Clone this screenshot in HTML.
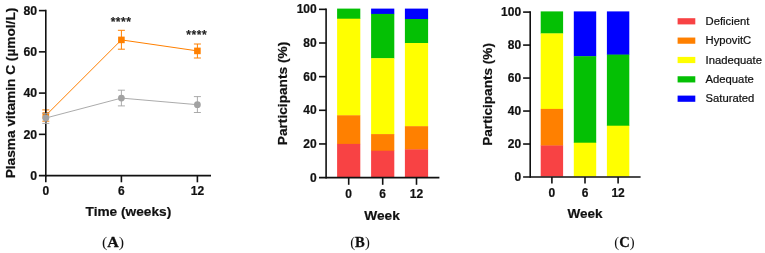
<!DOCTYPE html>
<html lang="en"><head><meta charset="utf-8"><title>Plasma vitamin C and participant status</title>
<style>html,body{margin:0;padding:0;background:#fff}body{width:765px;height:253px;overflow:hidden}svg{display:block}.b{font-family:"Liberation Sans", Arial, Helvetica, sans-serif;font-weight:700;fill:#111111;stroke:#111;stroke-width:.2px}.r{font-family:"Liberation Sans", Arial, Helvetica, sans-serif;font-weight:400;fill:#111;stroke:#111;stroke-width:.22px}.s{font-family:"Liberation Serif", "Times New Roman", serif;fill:#111}</style></head><body>
<svg width="765" height="253" viewBox="0 0 765 253">
<rect width="765" height="253" fill="#fff"/>
<g id="chartA">
<g stroke="#FF8000" fill="none" stroke-width="1.0">
<polyline points="45.8,115.5 121.4,39.9 197.4,50.9"/>
<path d="M45.8 109.9V121.2M42.3 109.9h7M42.3 121.2h7"/>
<path d="M121.4 30.3V49.2M117.9 30.3h7M117.9 49.2h7"/>
<path d="M197.4 44.0V58.0M193.9 44.0h7M193.9 58.0h7"/>
</g>
<rect x="42.5" y="112.2" width="6.6" height="6.6" fill="#FF8000"/>
<rect x="118.1" y="36.6" width="6.6" height="6.6" fill="#FF8000"/>
<rect x="194.1" y="47.6" width="6.6" height="6.6" fill="#FF8000"/>
<g stroke="#111111" stroke-width="1.6" fill="none">
<path d="M45.80 9.80V176.40"/>
<path d="M38.90 175.60H211.00"/>
<path d="M38.9 134.35H45.80"/>
<path d="M38.9 93.10H45.80"/>
<path d="M38.9 51.85H45.80"/>
<path d="M38.9 10.60H45.80"/>
<path d="M45.80 175.60V182.30"/>
<path d="M121.40 175.60V182.30"/>
<path d="M197.40 175.60V182.30"/>
</g>
<g stroke="#A2A2A2" fill="none" stroke-width="0.9">
<polyline points="45.8,118.0 121.4,98.1 197.4,104.7"/>
<path d="M45.8 113.4V123.4M42.3 113.4h7M42.3 123.4h7"/>
<path d="M121.4 90.2V105.9M117.9 90.2h7M117.9 105.9h7"/>
<path d="M197.4 96.6V112.5M193.9 96.6h7M193.9 112.5h7"/>
</g>
<circle cx="45.8" cy="118.0" r="3.4" fill="#A2A2A2"/>
<circle cx="121.4" cy="98.1" r="3.4" fill="#A2A2A2"/>
<circle cx="197.4" cy="104.7" r="3.4" fill="#A2A2A2"/>
<g class="b" font-size="12.3" text-anchor="end">
<text x="37.1" y="179.75">0</text>
<text x="37.1" y="138.50">20</text>
<text x="37.1" y="97.25">40</text>
<text x="37.1" y="56.00">60</text>
<text x="37.1" y="14.75">80</text>
</g>
<g class="b" font-size="12" text-anchor="middle">
<text x="45.8" y="195.3">0</text>
<text x="121.4" y="195.3">6</text>
<text x="197.4" y="195.3">12</text>
</g>
<text class="b" font-size="13.7" text-anchor="middle" x="128.4" y="216.1">Time (weeks)</text>
<text class="b" font-size="13.7" text-anchor="middle" transform="translate(15.2 93.0) rotate(-90)">Plasma vitamin C (µmol/L)</text>
<g class="b" font-size="12" letter-spacing=".55" text-anchor="middle" style="font-weight:700;fill:#222;stroke:#222;stroke-width:.15px;stroke-linejoin:round">
<text x="121.1" y="25.6">****</text>
<text x="196.8" y="39.2">****</text>
</g>
<text class="s" font-size="14.8" text-anchor="middle" transform="translate(113.0 246.6) scale(1.08 1.02)">(<tspan font-weight="700" stroke="#111" stroke-width=".25">A</tspan>)</text>
</g>
<g id="chartB">
<rect x="337.10" y="8.60" width="23.2" height="10.40" fill="#04C004"/>
<rect x="337.10" y="18.70" width="23.2" height="96.90" fill="#FFFF00"/>
<rect x="337.10" y="115.30" width="23.2" height="28.90" fill="#FF8000"/>
<rect x="337.10" y="143.90" width="23.2" height="33.10" fill="#F84244"/>
<rect x="371.10" y="8.60" width="23.2" height="5.60" fill="#0000FF"/>
<rect x="371.10" y="13.90" width="23.2" height="44.60" fill="#04C004"/>
<rect x="371.10" y="58.20" width="23.2" height="76.20" fill="#FFFF00"/>
<rect x="371.10" y="134.10" width="23.2" height="16.90" fill="#FF8000"/>
<rect x="371.10" y="150.70" width="23.2" height="26.30" fill="#F84244"/>
<rect x="404.90" y="8.60" width="23.2" height="10.70" fill="#0000FF"/>
<rect x="404.90" y="19.00" width="23.2" height="24.30" fill="#04C004"/>
<rect x="404.90" y="43.00" width="23.2" height="83.50" fill="#FFFF00"/>
<rect x="404.90" y="126.20" width="23.2" height="23.50" fill="#FF8000"/>
<rect x="404.90" y="149.40" width="23.2" height="27.60" fill="#F84244"/>
<g stroke="#111111" stroke-width="1.6" fill="none">
<path d="M326.10 8.55V178.40"/>
<path d="M319 177.60H439.4"/>
<path d="M319 143.95H326.10"/>
<path d="M319 110.30H326.10"/>
<path d="M319 76.65H326.10"/>
<path d="M319 43.00H326.10"/>
<path d="M319 9.35H326.10"/>
<path d="M348.70 177.60V184.8"/>
<path d="M382.70 177.60V184.8"/>
<path d="M416.50 177.60V184.8"/>
</g>
<g class="b" font-size="12" text-anchor="end">
<text x="316.7" y="181.6">0</text>
<text x="316.7" y="147.9">20</text>
<text x="316.7" y="114.3">40</text>
<text x="316.7" y="80.6">60</text>
<text x="316.7" y="47.0">80</text>
<text x="316.7" y="13.3">100</text>
</g>
<g class="b" font-size="12" text-anchor="middle">
<text x="348.7" y="197.7">0</text>
<text x="382.7" y="197.7">6</text>
<text x="416.5" y="197.7">12</text>
</g>
<text class="b" font-size="13.7" text-anchor="middle" x="382.1" y="219.8">Week</text>
<text class="b" font-size="13.7" text-anchor="middle" transform="translate(287.3 93.5) rotate(-90)">Participants (%)</text>
<text class="s" font-size="14.8" text-anchor="middle" transform="translate(360 246.6) scale(0.99 1.02)">(<tspan font-weight="700" stroke="#111" stroke-width=".25">B</tspan>)</text>
</g>
<g id="chartC">
<rect x="540.70" y="11.40" width="22.4" height="22.30" fill="#04C004"/>
<rect x="540.70" y="33.40" width="22.4" height="75.80" fill="#FFFF00"/>
<rect x="540.70" y="108.90" width="22.4" height="36.90" fill="#FF8000"/>
<rect x="540.70" y="145.50" width="22.4" height="31.00" fill="#F84244"/>
<rect x="573.80" y="11.40" width="22.4" height="45.10" fill="#0000FF"/>
<rect x="573.80" y="56.20" width="22.4" height="86.80" fill="#04C004"/>
<rect x="573.80" y="142.70" width="22.4" height="33.80" fill="#FFFF00"/>
<rect x="606.90" y="11.40" width="22.4" height="43.50" fill="#0000FF"/>
<rect x="606.90" y="54.60" width="22.4" height="71.40" fill="#04C004"/>
<rect x="606.90" y="125.70" width="22.4" height="50.80" fill="#FFFF00"/>
<g stroke="#111111" stroke-width="1.6" fill="none">
<path d="M530.20 11.30V177.80"/>
<path d="M523.1 177.00H640.6"/>
<path d="M523.1 144.02H530.20"/>
<path d="M523.1 111.04H530.20"/>
<path d="M523.1 78.06H530.20"/>
<path d="M523.1 45.08H530.20"/>
<path d="M523.1 12.10H530.20"/>
<path d="M551.90 177.00V183.6"/>
<path d="M585.00 177.00V183.6"/>
<path d="M618.10 177.00V183.6"/>
</g>
<g class="b" font-size="12" text-anchor="end">
<text x="521.1" y="180.9">0</text>
<text x="521.1" y="147.9">20</text>
<text x="521.1" y="114.9">40</text>
<text x="521.1" y="82.0">60</text>
<text x="521.1" y="49.0">80</text>
<text x="521.1" y="16.0">100</text>
</g>
<g class="b" font-size="12" text-anchor="middle">
<text x="551.9" y="197.2">0</text>
<text x="585.0" y="197.2">6</text>
<text x="618.1" y="197.2">12</text>
</g>
<text class="b" font-size="13.5" text-anchor="middle" x="585" y="218.3">Week</text>
<text class="b" font-size="13.6" text-anchor="middle" transform="translate(492.4 94.4) rotate(-90)">Participants (%)</text>
<text class="s" font-size="14.8" text-anchor="middle" transform="translate(624.5 246.6) scale(0.99 1.02)">(<tspan font-weight="700" stroke="#111" stroke-width=".25">C</tspan>)</text>
</g>
<g id="legend">
<rect x="677.6" y="18.20" width="17.7" height="6.2" fill="#F84244"/>
<text class="r" font-size="11.25" x="705.6" y="24.95">Deficient</text>
<rect x="677.6" y="37.55" width="17.7" height="6.2" fill="#FF8000"/>
<text class="r" font-size="11.25" x="705.6" y="44.30">HypovitC</text>
<rect x="677.6" y="56.90" width="17.7" height="6.2" fill="#FFFF00"/>
<text class="r" font-size="11.25" x="705.6" y="63.65">Inadequate</text>
<rect x="677.6" y="76.25" width="17.7" height="6.2" fill="#04C004"/>
<text class="r" font-size="11.25" x="705.6" y="83.00">Adequate</text>
<rect x="677.6" y="95.60" width="17.7" height="6.2" fill="#0000FF"/>
<text class="r" font-size="11.25" x="705.6" y="102.35">Saturated</text>
</g>
</svg></body></html>
